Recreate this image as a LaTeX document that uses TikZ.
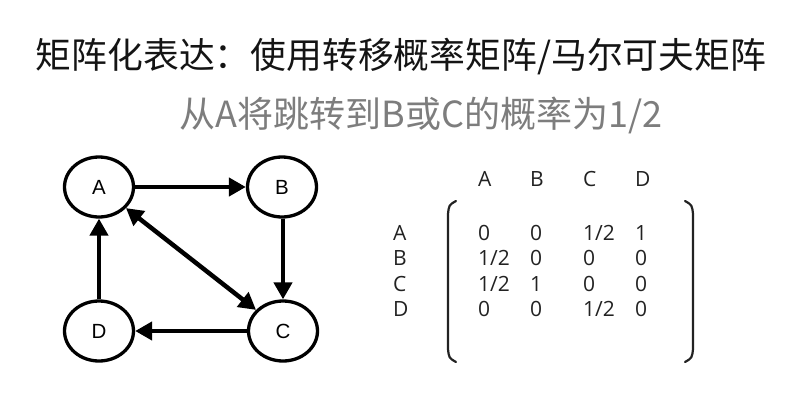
\documentclass[tikz,border=0pt]{standalone}
\usepackage{fontspec}
\setmainfont{Open Sans}
\newfontfamily\cjkfont{Noto Sans CJK SC}
\newfontfamily\graphfont{Liberation Sans}
\usetikzlibrary{shapes.geometric,arrows.meta}
\definecolor{titlegrey}{RGB}{20,20,20}
\definecolor{subgrey}{RGB}{125,125,125}
\definecolor{matgrey}{RGB}{34,34,34}
\tikzset{
    title/.style={
        font=\cjkfont\fontsize{35.8}{40}\selectfont,
        text=titlegrey,
        inner sep=0pt
    },
    subtitle/.style={
        font=\cjkfont\fontsize{36}{40}\selectfont,
        text=subgrey,
        inner sep=0pt
    },
    state/.style={
        draw,
        ellipse,
        line width=3.3pt,
        minimum width=69pt,
        minimum height=60pt,
        inner sep=0pt,
        font=\graphfont\fontsize{20.5}{24}\selectfont
    },
    edge/.style={
        line width=4.5pt,
        -{Triangle[length=17pt,width=18pt]}
    },
    entry/.style={
        anchor=base west,
        inner sep=0pt,
        text=matgrey,
        font=\fontsize{21}{24}\selectfont
    },
    bracket/.style={
        draw=matgrey,
        line width=2.2pt,
        line cap=round
    }
}

\begin{document}
\begin{tikzpicture}[x=1pt,y=-1pt]

\useasboundingbox (0,0) rectangle (787,409);

% Headings
\node[title] (head) at (401,57) {矩阵化表达：使用转移概率矩阵/马尔可夫矩阵};
\node[subtitle] (sub) at (421,115) {从A将跳转到B或C的概率为1/2};

% States
\node[state] (A) at (99,187) {A};
\node[state] (B) at (282,187) {B};
\node[state] (C) at (283,331) {C};
\node[state] (D) at (99,331) {D};

% Transitions
\draw[edge] (A) -- (B);
\draw[edge] (B.south -| C.north) -- (C.north);
\draw[edge] (C) -- (D);
\draw[edge] (D) -- (A);
\draw[edge, {Triangle[length=17pt,width=18pt]}-{Triangle[length=17pt,width=18pt]}] (A) -- (C);

% Column labels
\node[entry] (cA) at (478,186) {A};
\node[entry] (cB) at (530,186) {B};
\node[entry] (cC) at (583,186) {C};
\node[entry] (cD) at (635,186) {D};

% Row labels
\node[entry] (rA) at (393,240) {A};
\node[entry] (rB) at (393,265) {B};
\node[entry] (rC) at (393,291) {C};
\node[entry] (rD) at (393,316) {D};

% Matrix entries
\node[entry] (m11) at (478,240) {0};
\node[entry] (m12) at (530,240) {0};
\node[entry] (m13) at (583,240) {1/2};
\node[entry] (m14) at (635,240) {1};
\node[entry] (m21) at (478,265) {1/2};
\node[entry] (m22) at (530,265) {0};
\node[entry] (m23) at (583,265) {0};
\node[entry] (m24) at (635,265) {0};
\node[entry] (m31) at (478,291) {1/2};
\node[entry] (m32) at (530,291) {1};
\node[entry] (m33) at (583,291) {0};
\node[entry] (m34) at (635,291) {0};
\node[entry] (m41) at (478,316) {0};
\node[entry] (m42) at (530,316) {0};
\node[entry] (m43) at (583,316) {1/2};
\node[entry] (m44) at (635,316) {0};

% Brackets
\draw[bracket] (456,201) .. controls (449,205) .. (448,214) -- (448,349) .. controls (449,358) .. (456,362);
\draw[bracket] (685,201) .. controls (692,205) .. (693,214) -- (693,349) .. controls (692,358) .. (685,362);

\end{tikzpicture}
\end{document}
